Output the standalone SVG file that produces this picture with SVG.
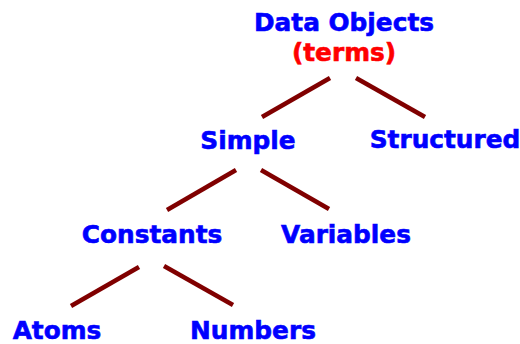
<svg xmlns="http://www.w3.org/2000/svg" width="520" height="344" viewBox="0 0 520 344">
<style>
text{font-family:"DejaVu Sans",Verdana,sans-serif;font-weight:bold;font-size:24.8px;fill:#0000ff;stroke:#0000ff;stroke-width:0.6;text-anchor:middle}
text.red{fill:#ff0000;stroke:#ff0000}
.edge line{stroke:#800000;stroke-width:4.5;stroke-linecap:butt}
</style>
<rect width="520" height="344" fill="#ffffff"/>
<g class="edge" id="connectors">
<line x1="330" y1="78" x2="262" y2="117"/>
<line x1="356" y1="78" x2="425" y2="117"/>
<line x1="236" y1="170" x2="167" y2="210"/>
<line x1="261" y1="170" x2="329" y2="209"/>
<line x1="139" y1="267" x2="71" y2="306"/>
<line x1="164" y1="266" x2="233" y2="305"/>
</g>
<g id="data-objects"><text x="344" y="31">Data Objects</text><text class="red" x="344" y="61">(terms)</text></g>
<g id="simple"><text x="248" y="149">Simple</text></g>
<g id="structured"><text x="445" y="148">Structured</text></g>
<g id="constants"><text x="152" y="243">Constants</text></g>
<g id="variables"><text x="346" y="243">Variables</text></g>
<g id="atoms"><text x="57" y="339">Atoms</text></g>
<g id="numbers"><text x="253" y="339">Numbers</text></g>
</svg>
